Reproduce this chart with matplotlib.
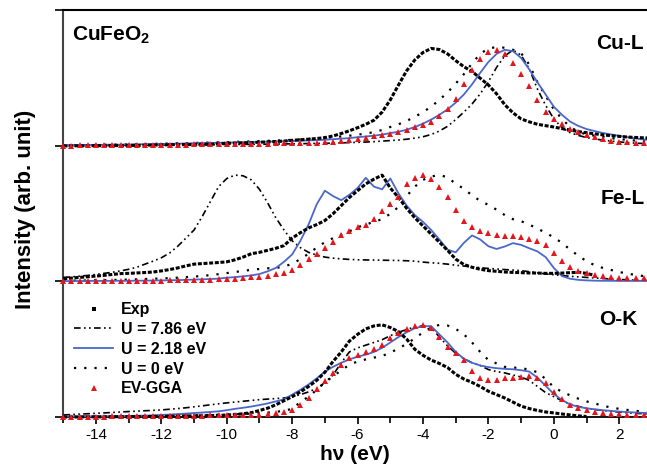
import matplotlib
matplotlib.use('Agg')
import matplotlib.pyplot as plt
from matplotlib.ticker import MultipleLocator
from matplotlib.lines import Line2D
import numpy as np

plt.rcParams['font.family'] = ['Liberation Sans', 'DejaVu Sans']
plt.rcParams['axes.unicode_minus'] = False
plt.rcParams['mathtext.fontset'] = 'custom'
plt.rcParams['mathtext.rm'] = 'Liberation Sans'
plt.rcParams['mathtext.bf'] = 'Liberation Sans:bold'

# photon energy grid (eV)
energy = np.arange(-15, 3.001, 0.25)
nan = np.nan

series_labels = ['Exp', 'U = 7.86 eV', 'U = 2.18 eV', 'U = 0 eV', 'EV-GGA']
panel_names = ['Cu-L', 'Fe-L', 'O-K']

# ---------------- Cu-L ----------------
cu_exp = [0.000, 0.001, 0.002, 0.001, 0.003, 0.002, 0.004, 0.003,
          0.005, 0.004, 0.006, 0.007, 0.008, 0.009, 0.011, 0.010,
          0.012, 0.014, 0.013, 0.016, 0.020, 0.021, 0.023, 0.025,
          0.028, 0.030, 0.033, 0.036, 0.042, 0.046, 0.050, 0.055,
          0.062, 0.074, 0.092, 0.112, 0.135, 0.160, 0.190, 0.250,
          0.340, 0.450, 0.555, 0.635, 0.690, 0.720, 0.712, 0.680,
          0.630, 0.585, 0.550, 0.500, 0.450, 0.385, 0.305, 0.245,
          0.200, 0.178, 0.160, 0.150, 0.140, 0.128, 0.118, 0.106,
          0.098, 0.090, 0.082, 0.076, 0.071, 0.066, 0.063, 0.060, 0.058]
cu_u786 = [.003, .003, .003, .004, .004, .004, .005, .005,
           .005, .006, .006, .006, .007, .007, .008, .008,
           .009, .009, .010, .010, .011, .011, .012, .012,
           .013, .013, .014, .015, .016, .017, .018, .019,
           .020, .021, .023, .025, .027, .029, .032, .036,
           .040, .044, .050, .058, .068, .085, .110, .145,
           .195, .250, .310, .385, .475, .580, .665, .708,
           .670, .570, .420, .300, .200, .135, .098, .078,
           .062, .052, .043, .036, .030, .025, .021, .018, .015]
cu_u218 = [.005, .006, .006, .007, .008, .009, .010, .010,
           .011, .012, .013, .014, .015, .016, .017, .019,
           .020, .021, .022, .024, .025, .026, .028, .029,
           .030, .032, .034, .035, .037, .039, .041, .043,
           .046, .050, .054, .058, .065, .070, .076, .084,
           .095, .105, .120, .140, .165, .195, .230, .270,
           .320, .380, .455, .540, .620, .680, .710, .700,
           .650, .565, .470, .380, .290, .230, .180, .148,
           .125, .110, .096, .085, .075, .065, .056, .048, .042]
cu_u0 = [.005, .006, .006, .007, .008, .009, .010, .011,
         .012, .013, .014, .016, .017, .018, .020, .021,
         .022, .024, .025, .027, .028, .030, .032, .034,
         .036, .038, .040, .042, .045, .048, .052, .056,
         .060, .065, .070, .076, .083, .092, .102, .118,
         .140, .160, .185, .215, .250, .290, .340, .395,
         .460, .530, .610, .680, .720, .730, .725, .710,
         .685, .600, .470, .370, .270, .200, .140, .105,
         .085, .076, .067, .058, .050, .045, .040, .035, .030]
cu_evgga = [.003, .003, .004, .004, .005, .005, .006, .006,
            .007, .007, .008, .008, .009, .009, .010, .010,
            .011, .012, .012, .013, .014, .015, .015, .016,
            .017, .018, .019, .020, .021, .022, .023, .024,
            .028, .032, .038, .044, .052, .060, .070, .080,
            .090, .105, .120, .138, .155, .180, .220, .270,
            .350, .460, .560, .640, .690, .710, .680, .610,
            .530, .440, .340, .250, .200, .160, .125, .100,
            .080, .065, .050, .040, .033, .029, .025, .022, .020]

# ---------------- Fe-L ----------------
fe_exp = [.020, .025, .030, .035, .040, .045, .052, .058,
          .060, .063, .066, .070, .078, .088, .100, .115,
          .128, .132, .136, .140, .145, .160, .180, .205,
          .215, .230, .245, .265, .320, .360, .395, .420,
          .450, .500, .560, .620, .670, .720, .755, .785,
          .690, .620, .540, .470, .410, .350, .290, .230,
          .165, .125, .105, .090, .080, .075, .070, .067,
          .065, .063, .062, .060, .060, .062, .065, .068,
          .060, .045, nan, nan, nan, nan, nan, nan, nan]
fe_u786 = [.030, .034, .039, .045, .052, .060, .068, .078,
           .090, .105, .128, .150, .175, .210, .260, .320,
           .380, .480, .590, .700, .760, .785, .780, .750,
           .680, .580, .470, .380, .300, .250, .215, .195,
           .180, .172, .167, .163, .160, .159, .158, .157,
           .156, .155, .153, .150, .143, .138, .134, .128,
           .120, .114, .108, .102, .096, .092, .088, .084,
           .080, .072, .064, .056, .050, .044, .038, .034,
           .030, .026, .022, .018, .015, .012, .010, .008, .006]
fe_u218 = [.003, .003, .003, .004, .004, .004, .005, .005,
           .005, .006, .006, .007, .008, .009, .010, .012,
           .014, .016, .018, .021, .028, .032, .038, .045,
           .055, .075, .100, .145, .200, .300, .420, .570,
           .670, .630, .600, .640, .690, .765, .700, .680,
           .760, .650, .560, .490, .440, .380, .310, .235,
           .215, .285, .340, .310, .260, .240, .258, .283,
           .270, .245, .222, .180, .100, .040, .020, .012,
           .008, .006, .005, .005, .004, .004, .004, .004, .004]
fe_u0 = [.005, .006, .007, .008, .009, .010, .011, .012,
         .014, .016, .018, .020, .022, .025, .028, .032,
         .036, .041, .047, .054, .062, .070, .078, .086,
         .092, .097, .100, .110, .130, .165, .205, .250,
         .290, .320, .345, .370, .400, .420, .440, .460,
         .500, .550, .630, .700, .750, .775, .785, .770,
         .720, .685, .635, .595, .565, .530, .490, .460,
         .445, .420, .390, .360, .325, .285, .235, .190,
         .150, .120, .100, .085, .070, .058, .048, .040, .032]
fe_evgga = [.003, .003, .003, .004, .004, .004, .005, .005,
            .005, .006, .006, .007, .007, .008, .009, .010,
            .011, .012, .014, .016, .018, .021, .025, .030,
            .036, .044, .053, .065, .085, .120, .165, .205,
            .250, .295, .340, .370, .400, .420, .460, .520,
            .570, .620, .720, .765, .785, .760, .700, .620,
            .530, .450, .400, .370, .355, .345, .338, .332,
            .325, .315, .300, .270, .210, .150, .110, .080,
            .060, .048, .038, .031, .027, .025, .023, .022, .021]

# ---------------- O-K ----------------
ok_exp = [.000, .000, .000, .001, .001, .001, .002, .002,
          .002, .003, .003, .004, .004, .005, .006, .007,
          .008, .009, .010, .012, .014, .018, .024, .032,
          .048, .065, .090, .120, .150, .185, .225, .270,
          .330, .410, .480, .560, .610, .650, .672, .680,
          .660, .630, .575, .500, .455, .420, .395, .365,
          .315, .280, .255, .225, .190, .165, .140, .110,
          .080, .062, .048, .037, .030, .022, .015, .008,
          .004, nan, nan, nan, nan, nan, nan, nan, nan]
ok_u786 = [.015, .018, .021, .024, .027, .030, .033, .037,
           .040, .043, .046, .049, .052, .057, .062, .068,
           .075, .082, .090, .097, .104, .110, .116, .122,
           .128, .132, .136, .140, .150, .165, .185, .210,
           .255, .310, .400, .480, .510, .530, .550, .570,
           .600, .625, .645, .665, .672, .662, .590, .525,
           .470, .430, .400, .380, .350, .335, .325, .310,
           .295, .270, .225, .180, .150, .120, .095, .078,
           .064, .055, .048, .042, .036, .031, .027, .024, .021]
ok_u218 = [.003, .003, .004, .004, .005, .005, .006, .007,
           .008, .009, .010, .012, .015, .018, .021, .025,
           .029, .033, .037, .042, .050, .060, .068, .077,
           .088, .100, .115, .130, .165, .200, .240, .285,
           .335, .370, .400, .425, .445, .460, .480, .510,
           .550, .590, .625, .655, .670, .670, .610, .550,
           .480, .430, .400, .380, .368, .360, .355, .352,
           .345, .335, .290, .230, .170, .125, .092, .075,
           .064, .057, .050, .045, .040, .036, .033, .030, .028]
ok_u0 = [.002, .002, .003, .003, .003, .004, .004, .005,
         .005, .006, .006, .007, .008, .009, .010, .011,
         .012, .013, .015, .016, .018, .020, .022, .025,
         .028, .032, .038, .046, .060, .110, .150, .200,
         .255, .300, .345, .385, .410, .425, .438, .450,
         .475, .505, .540, .580, .625, .660, .680, .675,
         .650, .610, .550, .480, .420, .395, .370, .365,
         .360, .350, .330, .280, .220, .185, .160, .135,
         .115, .100, .083, .070, .060, .052, .045, .040, .036]
ok_evgga = [.002, .002, .002, .003, .003, .003, .004, .004,
            .004, .005, .005, .006, .006, .007, .008, .008,
            .009, .010, .011, .012, .013, .014, .015, .016,
            .017, .020, .027, .037, .050, .085, .140, .205,
            .265, .325, .385, .435, .455, .480, .500, .530,
            .585, .620, .650, .675, .680, .660, .590, .520,
            .470, .420, .340, .290, .272, .275, .285, .290,
            .295, .300, .285, .250, .185, .130, .090, .068,
            .052, .040, .030, .022, .020, .018, .016, .015, .015]

panels = [
    (2, cu_exp, cu_u786, cu_u218, cu_u0, cu_evgga),
    (1, fe_exp, fe_u786, fe_u218, fe_u0, fe_evgga),
    (0, ok_exp, ok_u786, ok_u218, ok_u0, ok_evgga),
]

BLUE = '#4a67c9'
RED = '#e3161c'

fig = plt.figure(figsize=(6.47, 4.66), dpi=100)
ax = fig.add_axes([0.0978, 0.1052, 0.9022, 0.8723])

exp_style = dict(color='black', lw=2.2, linestyle=(0, (1.3, 0.55)),
                 dash_capstyle='butt', clip_on=False, zorder=5)
dd_style = dict(color='black', lw=1.2, linestyle=(0, (4, 2, 1, 2, 1, 2)),
                clip_on=False, zorder=3)
blue_style = dict(color=BLUE, lw=1.3, clip_on=False, zorder=4)
dot_style = dict(color='black', lw=1.6, linestyle=(0, (1, 3.6)),
                 clip_on=False, zorder=3)
ev_style = dict(linestyle='none', marker='^', ms=3.9, mew=0, color=RED,
                clip_on=False, zorder=6)

for off, exp, u786, u218, u0, ev in panels:
    for arr in (exp, u786, u218, u0, ev):
        assert len(arr) == len(energy), len(arr)
    ax.plot(energy, off + np.array(exp), **exp_style)
    ax.plot(energy, off + np.array(u786), **dd_style)
    ax.plot(energy, off + np.array(u218), **blue_style)
    ax.plot(energy, off + np.array(u0), **dot_style)
    ax.plot(energy, off + np.array(ev), **ev_style)

ax.set_xlim(-15, 2.85)
ax.set_ylim(0, 3.0)

ax.set_xticks(np.arange(-14, 3, 2))
ax.xaxis.set_minor_locator(MultipleLocator(1))
ax.set_yticks([0, 1, 2, 3])
ax.set_yticklabels([])
ax.tick_params(axis='x', which='major', direction='out', length=5, width=1.2,
               labelsize=11, pad=3)
ax.tick_params(axis='x', which='minor', direction='out', length=4, width=1.2)
ax.tick_params(axis='y', direction='out', length=6, width=1.2)

ax.spines['right'].set_visible(False)
ax.spines['top'].set_linewidth(1.5)
ax.spines['bottom'].set_linewidth(1.3)
ax.spines['left'].set_linewidth(1.5)
ax.spines['left'].set_color('#444444')

ax.set_xlabel('h\u03bd (eV)', fontsize=15, fontweight='bold', labelpad=2)
ax.set_ylabel('Intensity (arb. unit)', fontsize=16, fontweight='bold')
ax.yaxis.set_label_coords(-0.047, 0.51)

ax.text(-14.72, 2.82, r'CuFeO$_\mathbf{2}$', fontsize=15, fontweight='bold',
        ha='left', va='center')
label_pos = [(2.74, 2.76), (2.80, 1.61), (2.56, 0.716)]
for name, (lx, ly) in zip(panel_names, label_pos):
    ax.text(lx, ly, name, fontsize=15, fontweight='bold', ha='right', va='center')

handles = [
    Line2D([], [], linestyle='none', marker='s', ms=3, mew=0, color='black'),
    Line2D([], [], **{k: v for k, v in dd_style.items() if k not in ('clip_on', 'zorder')}),
    Line2D([], [], **{k: v for k, v in blue_style.items() if k not in ('clip_on', 'zorder')}),
    Line2D([], [], **{k: v for k, v in dot_style.items() if k not in ('clip_on', 'zorder')}),
    Line2D([], [], **{k: v for k, v in ev_style.items() if k not in ('clip_on', 'zorder')}),
]
leg = ax.legend(handles, series_labels, loc='upper left',
                bbox_to_anchor=(0.0, 0.31), frameon=False,
                numpoints=1, handlelength=2.4, labelspacing=0.3,
                prop={'size': 11.5, 'weight': 'bold'}, borderaxespad=0.3,
                handletextpad=0.5)

fig.savefig('out.png', dpi=100)
